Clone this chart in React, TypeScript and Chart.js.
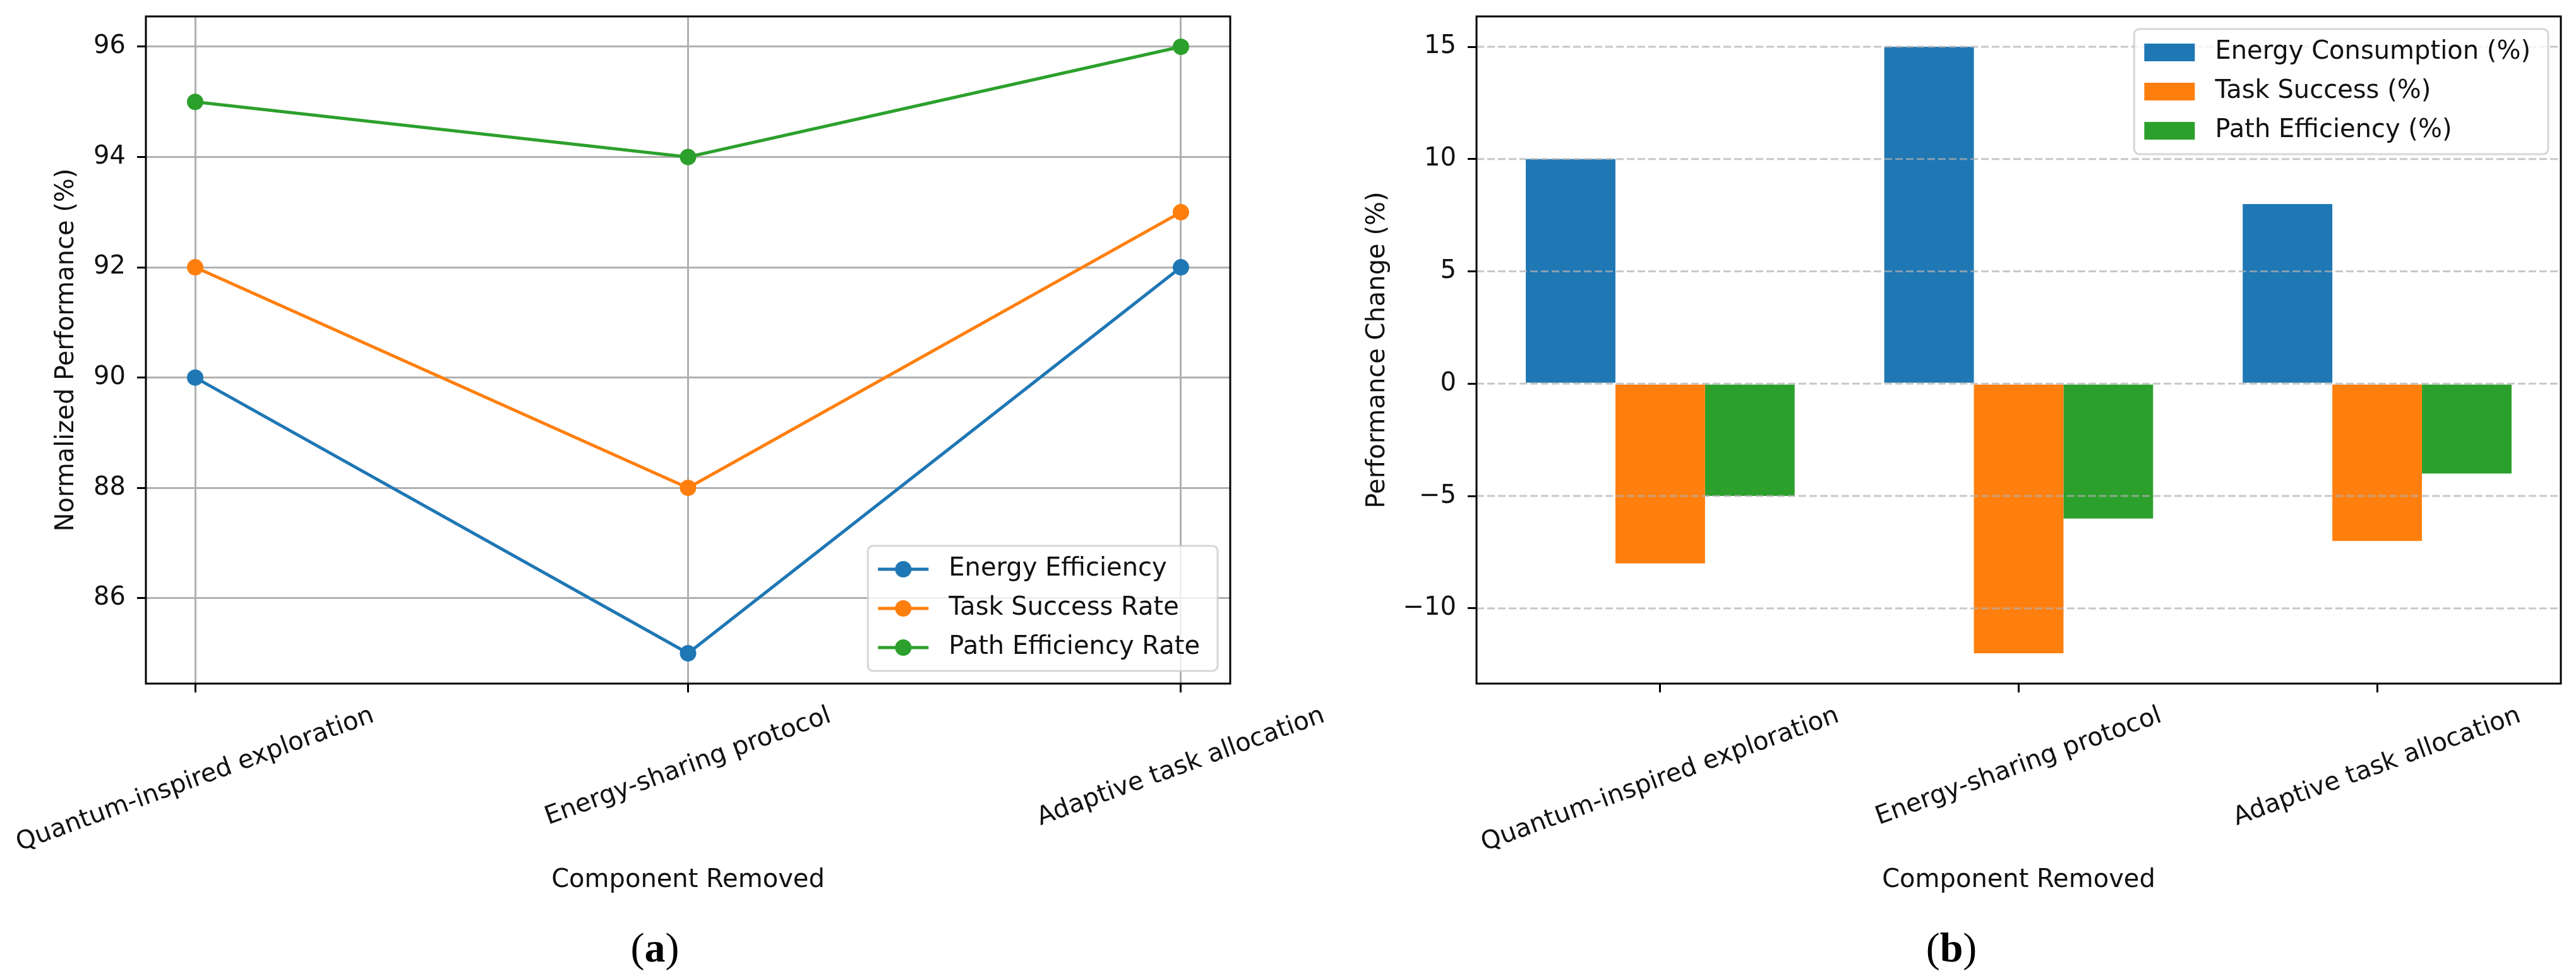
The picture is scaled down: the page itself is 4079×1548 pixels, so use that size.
import React, { useEffect, useRef } from 'react';
import { Chart, registerables } from 'chart.js';

Chart.register(...registerables);

// ---------- data ----------
const categories = ['Quantum-inspired exploration', 'Energy-sharing protocol', 'Adaptive task allocation'];

const lineLabels = ['Energy Efficiency', 'Task Success Rate', 'Path Efficiency Rate'];
const energyEfficiency = [90, 85, 92];
const taskSuccessRate = [92, 88, 93];
const pathEfficiencyRate = [95, 94, 96];

const barLabels = ['Energy Consumption (%)', 'Task Success (%)', 'Path Efficiency (%)'];
const energyConsumption = [10, 15, 8];
const taskSuccessChange = [-8, -12, -7];
const pathEfficiencyChange = [-5, -6, -4];

const leftYTicks = [86, 88, 90, 92, 94, 96];
const rightYTicks = [-10, -5, 0, 5, 10, 15];

const COLORS = ['#1f77b4', '#ff7f0e', '#2ca02c'];
const FONT = '"DejaVu Sans", sans-serif';
const FS = 40;
const TEXT = '#111';

const fmt = (v: number) => (v < 0 ? '\u2212' + Math.abs(v) : String(v));

function drawLegend(ctx: CanvasRenderingContext2D, area: any, labels: string[], kind: 'line' | 'bar') {
  ctx.save();
  ctx.font = `${FS}px ${FONT}`;
  const maxW = Math.max(...labels.map((l) => ctx.measureText(l).width));
  const bp = 16, hl = 80, htp = 32, ls = 20, rowH = 42, bap = 20;
  const W = bp + hl + htp + maxW + bp + 12;
  const H = 2 * bp + labels.length * rowH + (labels.length - 1) * ls;
  const x = area.right - bap - W;
  const y = kind === 'line' ? area.bottom - bap - H : area.top + bap;
  ctx.beginPath();
  (ctx as any).roundRect(x, y, W, H, 8);
  ctx.fillStyle = 'rgba(255,255,255,0.8)';
  ctx.fill();
  ctx.lineWidth = 3;
  ctx.strokeStyle = 'rgba(204,204,204,0.8)';
  ctx.stroke();
  labels.forEach((lab, i) => {
    const cy = y + bp + rowH / 2 + i * (rowH + ls);
    const hx = x + bp;
    ctx.fillStyle = COLORS[i];
    ctx.strokeStyle = COLORS[i];
    if (kind === 'line') {
      ctx.lineWidth = 5;
      ctx.beginPath();
      ctx.moveTo(hx, cy);
      ctx.lineTo(hx + hl, cy);
      ctx.stroke();
      ctx.beginPath();
      ctx.arc(hx + hl / 2, cy, 13, 0, Math.PI * 2);
      ctx.fill();
    } else {
      ctx.fillRect(hx, cy - 14, hl, 28);
    }
    ctx.fillStyle = TEXT;
    ctx.textAlign = 'left';
    ctx.textBaseline = 'middle';
    ctx.fillText(lab, hx + hl + htp, cy);
  });
  ctx.restore();
}

function drawCaption(ctx: CanvasRenderingContext2D, letter: string, cx: number, baseline: number) {
  ctx.save();
  const normal = '66px "Liberation Serif", serif';
  const bold = 'bold 66px "Liberation Serif", serif';
  ctx.font = normal;
  const wp = ctx.measureText('(').width;
  const wq = ctx.measureText(')').width;
  ctx.font = bold;
  const wl = ctx.measureText(letter).width;
  let x = cx - (wp + wl + wq) / 2;
  ctx.fillStyle = '#000';
  ctx.textAlign = 'left';
  ctx.textBaseline = 'alphabetic';
  ctx.font = normal;
  ctx.fillText('(', x, baseline);
  x += wp;
  ctx.font = bold;
  ctx.fillText(letter, x, baseline);
  x += wl;
  ctx.font = normal;
  ctx.fillText(')', x, baseline);
  ctx.restore();
}

function makeDecor(kind: 'line' | 'bar', labels: string[], letter: string, captionX: number) {
  return {
    id: 'decor-' + kind,
    afterDatasetsDraw(chart: any) {
      if (kind !== 'bar') return;
      const { ctx, chartArea: a } = chart;
      const ys = chart.scales.y;
      ctx.save();
      ctx.strokeStyle = 'rgba(176,176,176,0.7)';
      ctx.lineWidth = 3;
      ctx.setLineDash([12, 5]);
      ys.ticks.forEach((t: any) => {
        const py = ys.getPixelForValue(t.value);
        ctx.beginPath();
        ctx.moveTo(a.left, py);
        ctx.lineTo(a.right, py);
        ctx.stroke();
      });
      ctx.restore();
    },
    afterDraw(chart: any) {
      const { ctx, chartArea: a } = chart;
      const xs = chart.scales.x;
      const ys = chart.scales.y;
      ctx.save();
      // frame
      ctx.strokeStyle = '#000';
      ctx.lineWidth = 3;
      ctx.strokeRect(a.left, a.top, a.right - a.left, a.bottom - a.top);
      // y tick labels
      ctx.font = `${FS}px ${FONT}`;
      ctx.fillStyle = TEXT;
      ctx.textAlign = 'right';
      ctx.textBaseline = 'middle';
      ys.ticks.forEach((t: any) => {
        ctx.fillText(fmt(t.value), a.left - 32, ys.getPixelForValue(t.value));
      });
      // x tick labels, rotated 20deg, centred on tick
      const ang = (20 * Math.PI) / 180;
      const h = FS * 1.164;
      categories.forEach((lab, i) => {
        const px = xs.getPixelForValue(i);
        const w = ctx.measureText(lab).width;
        const bh = w * Math.sin(ang) + h * Math.cos(ang);
        const cy = a.bottom + 28 + bh / 2;
        ctx.save();
        ctx.translate(px, cy);
        ctx.rotate(-ang);
        ctx.textAlign = 'center';
        ctx.textBaseline = 'middle';
        ctx.fillText(lab, 0, 0);
        ctx.restore();
      });
      ctx.restore();
      drawLegend(ctx, a, labels, kind);
      drawCaption(ctx, letter, captionX, 1522);
    },
  };
}

const tickGrid = (onArea: boolean) => ({
  display: true,
  drawOnChartArea: onArea,
  drawTicks: true,
  color: '#b0b0b0',
  lineWidth: 3,
  tickColor: '#000',
  tickWidth: 3,
  tickLength: 14,
  offset: false,
});

export default function App() {
  const leftRef = useRef<HTMLCanvasElement>(null);
  const rightRef = useRef<HTMLCanvasElement>(null);

  useEffect(() => {
    const lineSeries = [energyEfficiency, taskSuccessRate, pathEfficiencyRate];
    const barSeries = [energyConsumption, taskSuccessChange, pathEfficiencyChange];

    const left = new Chart(leftRef.current as HTMLCanvasElement, {
      type: 'line',
      data: {
        datasets: lineSeries.map((vals, k) => ({
          label: lineLabels[k],
          data: vals.map((v, i) => ({ x: i, y: v })),
          borderColor: COLORS[k],
          backgroundColor: COLORS[k],
          pointBackgroundColor: COLORS[k],
          pointBorderColor: COLORS[k],
          borderWidth: 5,
          pointRadius: 12,
          pointBorderWidth: 2,
          tension: 0,
          fill: false,
        })),
      },
      options: {
        responsive: false,
        animation: false,
        devicePixelRatio: 1,
        layout: { padding: { left: 0, top: 26, right: 352, bottom: 0 } },
        plugins: { legend: { display: false }, tooltip: { enabled: false } },
        scales: {
          x: {
            type: 'linear',
            min: -0.1,
            max: 2.1,
            offset: false,
            afterBuildTicks: (s: any) => {
              s.ticks = categories.map((_, i) => ({ value: i }));
            },
            afterFit: (s: any) => {
              s.height = 466;
            },
            ticks: { display: false },
            grid: tickGrid(true),
            border: { display: false },
            title: {
              display: true,
              text: 'Component Removed',
              color: TEXT,
              font: { family: FONT, size: FS },
              padding: { top: 0, bottom: 130 },
            },
          },
          y: {
            type: 'linear',
            min: 84.45,
            max: 96.55,
            afterBuildTicks: (s: any) => {
              s.ticks = leftYTicks.map((v) => ({ value: v }));
            },
            afterFit: (s: any) => {
              s.width = 231;
            },
            ticks: { display: false },
            grid: tickGrid(true),
            border: { display: false },
            title: {
              display: true,
              text: 'Normalized Performance (%)',
              color: TEXT,
              font: { family: FONT, size: FS },
              padding: { top: 82, bottom: 0 },
            },
          },
        },
      } as any,
      plugins: [makeDecor('line', lineLabels, 'a', 1037)],
    });

    const right = new Chart(rightRef.current as HTMLCanvasElement, {
      type: 'bar',
      data: {
        datasets: barSeries.map((vals, k) => ({
          label: barLabels[k],
          data: vals.map((v, i) => ({ x: i, y: v })),
          backgroundColor: COLORS[k],
          borderWidth: 0,
          barPercentage: 1,
          categoryPercentage: 0.75,
        })),
      },
      options: {
        responsive: false,
        animation: false,
        devicePixelRatio: 1,
        layout: { padding: { left: 0, top: 26, right: 24, bottom: 0 } },
        plugins: { legend: { display: false }, tooltip: { enabled: false } },
        scales: {
          x: {
            type: 'linear',
            min: -0.5125,
            max: 2.5125,
            offset: false,
            afterBuildTicks: (s: any) => {
              s.ticks = categories.map((_, i) => ({ value: i }));
            },
            afterFit: (s: any) => {
              s.height = 466;
            },
            ticks: { display: false },
            grid: tickGrid(false),
            border: { display: false },
            title: {
              display: true,
              text: 'Component Removed',
              color: TEXT,
              font: { family: FONT, size: FS },
              padding: { top: 0, bottom: 130 },
            },
          },
          y: {
            type: 'linear',
            min: -13.35,
            max: 16.35,
            afterBuildTicks: (s: any) => {
              s.ticks = rightYTicks.map((v) => ({ value: v }));
            },
            afterFit: (s: any) => {
              s.width = 298;
            },
            ticks: { display: false },
            grid: tickGrid(false),
            border: { display: false },
            title: {
              display: true,
              text: 'Performance Change (%)',
              color: TEXT,
              font: { family: FONT, size: FS },
              padding: { top: 118, bottom: 0 },
            },
          },
        },
      } as any,
      plugins: [makeDecor('bar', barLabels, 'b', 1050)],
    });

    return () => {
      left.destroy();
      right.destroy();
    };
  }, []);

  return (
    <div
      style={{
        position: 'fixed',
        left: 0,
        top: 0,
        width: 4079,
        height: 1548,
        background: '#fff',
        overflow: 'hidden',
      }}
    >
      <div style={{ position: 'absolute', left: 2040, top: 0, width: 2039, height: 1548, zIndex: 1 }}>
        <canvas ref={rightRef} width={2039} height={1548} />
      </div>
      <div style={{ position: 'absolute', left: 0, top: 0, width: 2300, height: 1548, zIndex: 2 }}>
        <canvas ref={leftRef} width={2300} height={1548} />
      </div>
    </div>
  );
}
